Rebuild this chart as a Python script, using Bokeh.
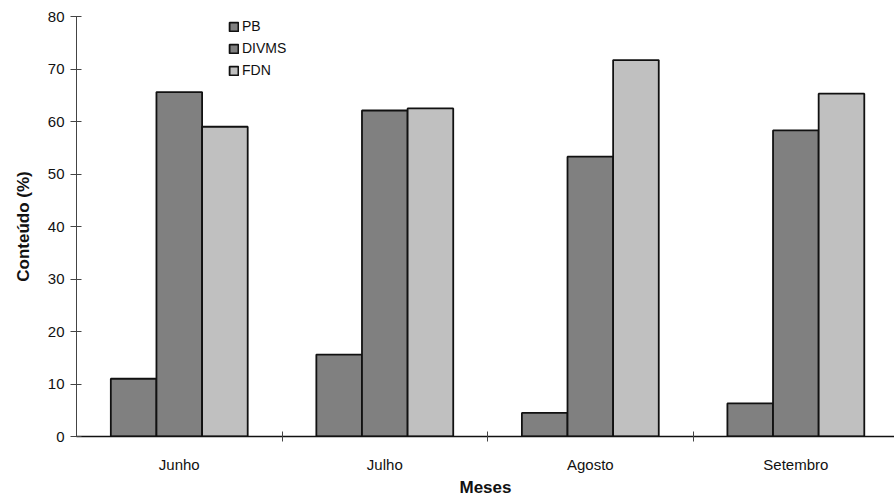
import numpy as np
from bokeh.plotting import figure
from bokeh.models import Range1d, FixedTicker, Legend, LegendItem
from bokeh.embed import file_html
from bokeh.resources import INLINE

months = ["Junho", "Julho", "Agosto", "Setembro"]
series = ["PB", "DIVMS", "FDN"]
pb = [11.0, 15.6, 4.5, 6.3]
divms = [65.6, 62.1, 53.3, 58.3]
fdn = [59.0, 62.5, 71.7, 65.3]
colors = ["#808080", "#808080", "#c0c0c0"]
y_ticks = [0, 10, 20, 30, 40, 50, 60, 70, 80]

FONT = "Liberation Sans"

p = figure(width=894, height=499, output_backend="svg", toolbar_location=None,
           x_range=Range1d(0, 3.98), y_range=Range1d(0, 80),
           min_border_left=76, min_border_right=0, min_border_top=16, min_border_bottom=40)
p.outline_line_color = None
p.grid.visible = False

bw = 0.222
centers = np.arange(len(months)) + 0.5
renderers = []
for j, (name, vals) in enumerate(zip(series, [pb, divms, fdn])):
    r = p.vbar(x=centers + (j - 1) * bw, top=vals, width=bw, bottom=0,
               fill_color=colors[j], line_color="#111111", line_width=1.8)
    renderers.append((name, r))

legend = Legend(items=[LegendItem(label=n, renderers=[r]) for n, r in renderers],
                location=(152, 356), border_line_color=None, background_fill_alpha=0,
                padding=0, spacing=2, glyph_width=11, glyph_height=11, label_height=20,
                label_standoff=3, label_text_font=FONT, label_text_font_size="14px",
                label_text_color="#111111")
p.add_layout(legend)

# y axis
ya = p.yaxis[0]
ya.ticker = FixedTicker(ticks=y_ticks)
ya.minor_tick_line_color = None
ya.major_tick_in = 5
ya.major_tick_out = 6
ya.axis_line_color = "#444444"
ya.major_tick_line_color = "#444444"
ya.major_label_text_font = FONT
ya.major_label_text_font_size = "15px"
ya.major_label_text_color = "#111111"
ya.major_label_standoff = 6
ya.axis_label = "Conteúdo (%)"
ya.axis_label_text_font = FONT
ya.axis_label_text_font_style = "bold"
ya.axis_label_text_font_size = "17px"
ya.axis_label_text_color = "#111111"
ya.axis_label_standoff = 12

# x axis
xa = p.xaxis[0]
xa.ticker = FixedTicker(ticks=list(centers), minor_ticks=list(np.arange(1, len(months))))
xa.major_label_overrides = {float(c): m for c, m in zip(centers, months)}
xa.major_tick_in = 0
xa.major_tick_out = 0
xa.minor_tick_in = 5
xa.minor_tick_out = 5
xa.minor_tick_line_color = "#444444"
xa.axis_line_color = "#111111"
xa.axis_line_width = 1.3
xa.major_label_text_font = FONT
xa.major_label_text_font_size = "15px"
xa.major_label_text_color = "#111111"
xa.major_label_standoff = 14
xa.axis_label = "Meses"
xa.axis_label_text_font = FONT
xa.axis_label_text_font_style = "bold"
xa.axis_label_text_font_size = "17px"
xa.axis_label_text_color = "#111111"
xa.axis_label_standoff = 2

open("out.html", "w").write(file_html(p, INLINE))
